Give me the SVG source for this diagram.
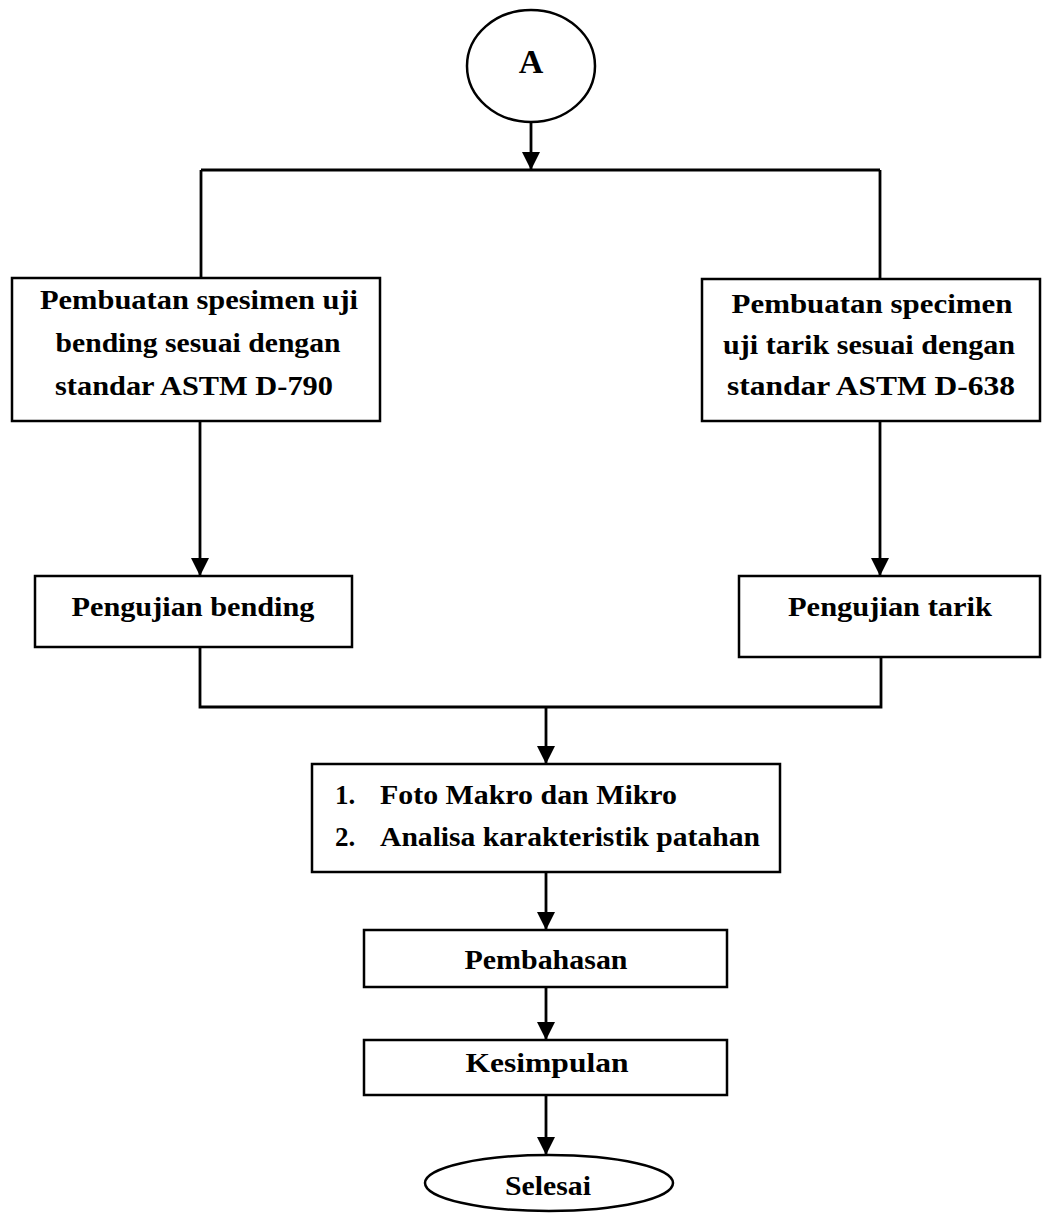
<svg xmlns="http://www.w3.org/2000/svg" width="1042" height="1213" viewBox="0 0 1042 1213">
<style>
.box{fill:#fff;stroke:#000;stroke-width:2.5}
.t{font-family:"Liberation Serif","Times New Roman",serif;font-weight:bold;font-size:27px;fill:#000}
.c{text-anchor:middle}
.big{font-size:34px}
.ln{fill:none;stroke:#000;stroke-width:2.8}
</style>
<defs>
<marker id="ah" markerUnits="userSpaceOnUse" markerWidth="18" markerHeight="18" viewBox="0 0 18 18" refX="18" refY="9" orient="auto">
<path d="M0,0 L18,9 L0,18 Z" fill="#000"/>
</marker>
</defs>
<rect width="1042" height="1213" fill="#fff"/>
<g id="connectors">
<path class="ln" d="M531 122 V170" marker-end="url(#ah)"/>
<path class="ln" d="M201 170 H880"/>
<path class="ln" d="M201 170 V278"/>
<path class="ln" d="M880 170 V279"/>
<path class="ln" d="M200 421 V576" marker-end="url(#ah)"/>
<path class="ln" d="M880 421 V576" marker-end="url(#ah)"/>
<path class="ln" d="M200 647 V707 H881 V657"/>
<path class="ln" d="M546 707 V764" marker-end="url(#ah)"/>
<path class="ln" d="M546 872 V930" marker-end="url(#ah)"/>
<path class="ln" d="M546 987 V1040" marker-end="url(#ah)"/>
<path class="ln" d="M546 1095 V1155" marker-end="url(#ah)"/>
</g>
<g id="nodeA">
<ellipse class="box" cx="531" cy="66" rx="64" ry="56"/>
<text class="t c big" x="531" y="73">A</text>
</g>
<g id="spesimenBending">
<rect class="box" x="12" y="278" width="368" height="143"/>
<text class="t c" x="199" y="309" textLength="318" lengthAdjust="spacingAndGlyphs">Pembuatan spesimen uji</text>
<text class="t c" x="198" y="352" textLength="285" lengthAdjust="spacingAndGlyphs">bending sesuai dengan</text>
<text class="t c" x="194" y="395" textLength="278" lengthAdjust="spacingAndGlyphs">standar ASTM D-790</text>
</g>
<g id="spesimenTarik">
<rect class="box" x="702" y="279" width="338" height="142"/>
<text class="t c" x="872" y="313" textLength="281" lengthAdjust="spacingAndGlyphs">Pembuatan specimen</text>
<text class="t c" x="869" y="354" textLength="292" lengthAdjust="spacingAndGlyphs">uji tarik sesuai dengan</text>
<text class="t c" x="871" y="395" textLength="288" lengthAdjust="spacingAndGlyphs">standar ASTM D-638</text>
</g>
<g id="pengujianBending">
<rect class="box" x="35" y="576" width="317" height="71"/>
<text class="t c" x="193" y="616" textLength="243" lengthAdjust="spacingAndGlyphs">Pengujian bending</text>
</g>
<g id="pengujianTarik">
<rect class="box" x="739" y="576" width="301" height="81"/>
<text class="t c" x="890" y="616" textLength="204" lengthAdjust="spacingAndGlyphs">Pengujian tarik</text>
</g>
<g id="fotoAnalisa">
<rect class="box" x="312" y="764" width="468" height="108"/>
<text class="t" x="335" y="804">1.</text>
<text class="t" x="380" y="804" textLength="297" lengthAdjust="spacingAndGlyphs">Foto Makro dan Mikro</text>
<text class="t" x="335" y="846">2.</text>
<text class="t" x="380" y="846" textLength="380" lengthAdjust="spacingAndGlyphs">Analisa karakteristik patahan</text>
</g>
<g id="pembahasan">
<rect class="box" x="364" y="930" width="363" height="57"/>
<text class="t c" x="546" y="969" textLength="163" lengthAdjust="spacingAndGlyphs">Pembahasan</text>
</g>
<g id="kesimpulan">
<rect class="box" x="364" y="1040" width="363" height="55"/>
<text class="t c" x="547" y="1072" textLength="163" lengthAdjust="spacingAndGlyphs">Kesimpulan</text>
</g>
<g id="selesai">
<ellipse class="box" cx="549" cy="1183" rx="124" ry="28"/>
<text class="t c" x="548" y="1195" textLength="86" lengthAdjust="spacingAndGlyphs">Selesai</text>
</g>
</svg>
